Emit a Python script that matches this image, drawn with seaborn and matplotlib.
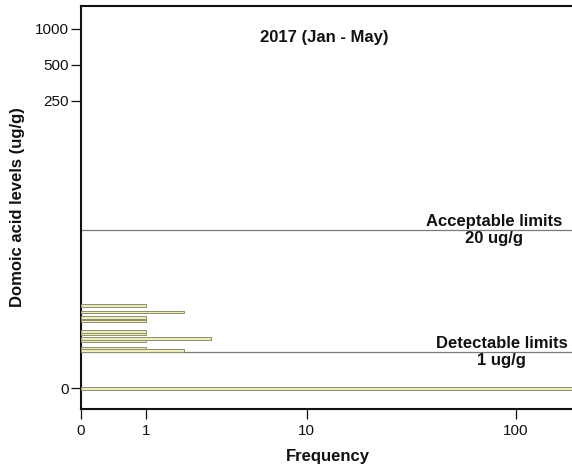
import numpy as np
import pandas as pd
import matplotlib
matplotlib.use("Agg")
import matplotlib.pyplot as plt
import seaborn as sns

# ---- data ----
levels = [0, 1.07, 1.17, 1.49, 1.61, 1.87, 1.99, 2.66, 2.91, 3.35, 3.93]   # ug/g
freqs = [250, 2, 1, 1, 3, 1, 1, 1, 1, 2, 1]
x_ticks = [0, 1, 10, 100]
y_ticks = [0, 250, 500, 1000]
limit_values = [1, 20]
limit_labels = ["Detectable limits\n1 ug/g", "Acceptable limits\n20 ug/g"]
limit_label_x = [0.857, 0.841]
title = "2017 (Jan - May)"
x_label = "Frequency"
y_label = "Domoic acid levels (ug/g)"

sns.set_theme(style="ticks")
plt.rcParams["font.family"] = ["Liberation Sans", "DejaVu Sans"]
plt.rcParams["xtick.bottom"] = True
plt.rcParams["ytick.left"] = True


def fwd(v):
    v = np.asarray(v, dtype=float)
    return np.log10(np.clip(v + 1.0, 1e-9, None))


def inv(t):
    return 10.0 ** np.asarray(t, dtype=float) - 1.0


fig = plt.figure(figsize=(5.72, 4.70), dpi=100)
ax = fig.add_axes([80.7 / 572, 1 - 409 / 470, 1 - 80.7 / 572, (409 - 5.7) / 470])
ax.set_xscale("function", functions=(fwd, inv))
ax.set_yscale("function", functions=(fwd, inv))

df = pd.DataFrame({"level": levels, "freq": freqs})
tl = np.unique(fwd(np.array(levels)))
min_gap = np.min(np.diff(tl))
bar_t = 0.021  # bar thickness in transformed units
sns.barplot(data=df, x="freq", y="level", orient="y", native_scale=True,
            errorbar=None, color="#ecebc4", saturation=1, width=bar_t / min_gap,
            edgecolor="#8f8f68", linewidth=0.7, ax=ax, zorder=3)

ax.set_xlim(0, inv(2.264))
ax.set_ylim(inv(-0.1729), inv(3.195))

for val, lab, lx in zip(limit_values, limit_labels, limit_label_x):
    ax.axhline(val, color="#7a7a7a", lw=0.9, zorder=2)
    ax.text(lx, val, lab, transform=ax.get_yaxis_transform(), ha="center",
            va="center", multialignment="center", fontsize=12,
            fontweight="bold", linespacing=1.2, color="#111111")

ax.text(0.496, 0.922, title, transform=ax.transAxes, ha="center", va="center",
        fontsize=12, fontweight="bold", color="#111111")

ax.set_xticks(x_ticks)
ax.set_xticklabels([str(v) for v in x_ticks])
ax.set_yticks(y_ticks)
ax.set_yticklabels([str(v) for v in y_ticks])
ax.minorticks_off()
ax.tick_params(axis="x", which="major", length=7, width=0.9, pad=4, labelsize=11,
               color="#111111", labelcolor="#111111", bottom=True, direction="out")
ax.tick_params(axis="y", which="major", length=7, width=0.9, pad=1.5, labelsize=11,
               color="#111111", labelcolor="#111111", left=True, direction="out")

ax.set_xlabel(x_label, fontsize=12, fontweight="bold", color="#111111")
ax.set_ylabel(y_label, fontsize=12, fontweight="bold", color="#111111")
ax.xaxis.set_label_coords(0.503, -0.098)
ax.yaxis.set_label_coords(-0.113, 0.5)

for s in ["left", "bottom", "top"]:
    ax.spines[s].set_visible(True)
    ax.spines[s].set_color("#111111")
    ax.spines[s].set_linewidth(1.5)
ax.spines["right"].set_visible(False)

fig.savefig("out.png", dpi=100)
